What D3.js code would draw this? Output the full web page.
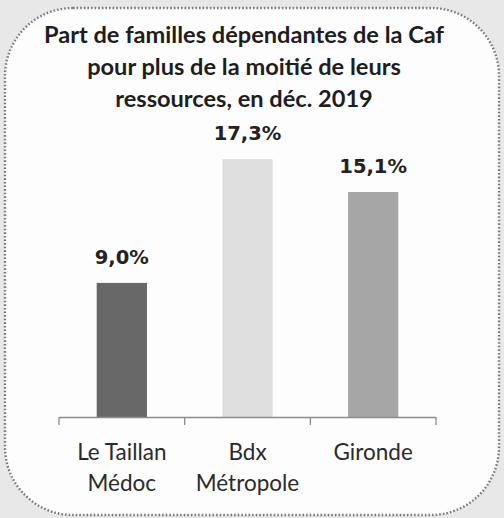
<!DOCTYPE html>
<html lang="fr">
<head>
<meta charset="UTF-8">
<title>Part de familles dépendantes de la Caf</title>
<style>
  html, body { margin: 0; padding: 0; background: #e8e8e8; }
  svg { display: block; }
</style>
</head>
<body>
<script src="https://d3js.org/d3.v7.min.js"></script>
<div id="chart"></div>
<script>
// données
const categories = [["Le Taillan", "Médoc"], ["Bdx", "Métropole"], ["Gironde"]];
const valeurs = [9.0, 17.3, 15.1];
const couleurs = ["#686868", "#dedede", "#a6a6a6"];
const titre = ["Part de familles dépendantes de la Caf", "pour plus de la moitié de leurs", "ressources, en déc. 2019"];

const width = 504, height = 518;

const svg = d3.select("#chart").append("svg")
  .attr("width", width)
  .attr("height", height);

// cadre arrondi en pointillés
svg.append("rect")
  .attr("x", 5).attr("y", 8)
  .attr("width", 494).attr("height", 507)
  .attr("rx", 68).attr("ry", 68)
  .attr("fill", "#fdfdfd")
  .attr("stroke", "#7a7a7a")
  .attr("stroke-width", 2.4)
  .attr("stroke-dasharray", "1.6 2");

// titre
svg.append("text")
  .attr("text-anchor", "middle")
  .attr("font-family", "Lato, 'Open Sans', sans-serif")
  .attr("font-weight", "bold")
  .attr("font-size", 23.6)
  .attr("fill", "#1e1e1e")
  .selectAll("tspan")
  .data(titre)
  .join("tspan")
    .attr("x", 244)
    .attr("y", (d, i) => 43 + i * 32)
    .text(d => d);

// échelles
const x = d3.scaleBand()
  .domain(d3.range(valeurs.length))
  .range([59, 436])
  .paddingInner(0.6)
  .paddingOuter(0.3);

const y = d3.scaleLinear()
  .domain([0, 20])
  .range([417, 119]);

// barres
svg.append("g")
  .selectAll("rect")
  .data(valeurs)
  .join("rect")
    .attr("x", (d, i) => x(i))
    .attr("y", d => y(d))
    .attr("width", x.bandwidth())
    .attr("height", d => y(0) - y(d))
    .attr("fill", (d, i) => couleurs[i]);

// étiquettes de valeur
svg.append("g")
  .selectAll("text")
  .data(valeurs)
  .join("text")
    .attr("x", (d, i) => x(i) + x.bandwidth() / 2)
    .attr("y", d => y(d) - 19)
    .attr("text-anchor", "middle")
    .attr("font-family", "'DejaVu Sans', Verdana, sans-serif")
    .attr("font-weight", "bold")
    .attr("font-size", 19.5)
    .attr("fill", "#222")
    .text(d => d.toFixed(1).replace(".", ",") + "%");

// axe horizontal avec graduations entre les catégories
const step = x.step();
const ticks = d3.range(valeurs.length + 1).map(i => 59 + i * step);
const axe = svg.append("g").attr("stroke", "#8c8c8c").attr("stroke-width", 1.3);
axe.append("line")
  .attr("x1", 59).attr("x2", 436)
  .attr("y1", y(0) + 0.5).attr("y2", y(0) + 0.5);
axe.selectAll("line.tick")
  .data(ticks)
  .join("line")
    .attr("class", "tick")
    .attr("x1", d => d).attr("x2", d => d)
    .attr("y1", y(0)).attr("y2", y(0) + 8);

// libellés des catégories
svg.append("g")
  .selectAll("text")
  .data(categories)
  .join("text")
    .attr("text-anchor", "middle")
    .attr("font-family", "Lato, 'Open Sans', sans-serif")
    .attr("font-size", 22.5)
    .attr("fill", "#2a2a2a")
    .selectAll("tspan")
    .data((d, i) => d.map(l => ({ l, i })))
    .join("tspan")
      .attr("x", d => x(d.i) + x.bandwidth() / 2)
      .attr("y", (d, j) => 460 + j * 31)
      .text(d => d.l);
</script>
</body>
</html>
